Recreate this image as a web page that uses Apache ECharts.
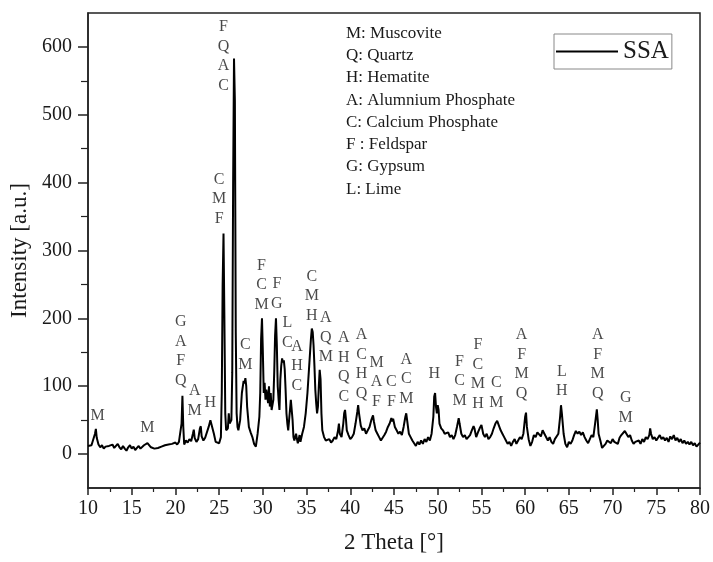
<!DOCTYPE html>
<html><head><meta charset="utf-8">
<script src="https://cdn.jsdelivr.net/npm/echarts@6/dist/echarts.min.js"></script>
<style>html,body{margin:0;padding:0;background:#fff}#c{width:713px;height:562px}</style>
</head><body><div id="c"></div>
<script>
// XRD pattern (2θ in degrees, intensity in a.u.)
const twoTheta = [
10.0,10.2,10.4,10.6,10.8,10.9,11.0,11.2,11.4,11.6,11.8,12.0,12.2,12.4,12.6,12.8,13.0,13.2,13.4,13.6,13.8,
14.0,14.2,14.4,14.6,14.8,15.0,15.2,15.4,15.6,15.8,16.0,16.2,16.4,16.6,16.8,17.0,17.2,17.4,17.6,17.8,
18.0,18.2,18.4,18.6,18.8,19.0,19.2,19.4,19.6,19.8,20.0,20.2,20.4,20.6,20.7,20.8,20.9,21.0,21.2,21.4,21.6,21.8,
22.0,22.1,22.2,22.4,22.6,22.8,22.9,23.0,23.2,23.4,23.6,23.8,24.0,24.2,24.4,24.6,24.8,25.0,25.2,25.3,25.4,25.5,25.6,25.7,25.8,
26.0,26.1,26.2,26.4,26.5,26.6,26.7,26.8,26.9,27.0,27.1,27.2,27.4,27.6,27.8,27.9,28.0,28.1,28.2,28.4,28.6,28.8,
29.0,29.2,29.4,29.6,29.7,29.8,29.9,30.0,30.1,30.2,30.3,30.4,30.6,30.7,30.8,30.9,31.0,31.2,31.3,31.4,31.5,31.6,31.7,31.8,31.9,
32.0,32.1,32.2,32.3,32.4,32.5,32.6,32.7,32.8,32.9,33.0,33.1,33.2,33.3,33.4,33.5,33.6,33.8,33.9,34.0,34.2,34.3,34.5,34.7,34.9,
35.1,35.3,35.5,35.6,35.7,35.8,35.9,36.0,36.1,36.2,36.3,36.4,36.5,36.6,36.7,36.8,37.0,37.2,37.4,37.6,37.8,
38.0,38.2,38.4,38.6,38.7,38.8,39.0,39.2,39.3,39.4,39.5,39.6,39.8,40.0,40.2,40.4,40.6,40.8,40.9,41.0,41.2,41.4,41.6,41.8,
42.0,42.2,42.4,42.6,42.7,42.9,43.1,43.3,43.5,43.7,43.9,44.1,44.3,44.5,44.7,44.8,44.9,45.1,45.3,45.5,45.7,45.9,
46.1,46.3,46.4,46.5,46.7,46.9,47.1,47.3,47.5,47.7,47.9,48.1,48.3,48.5,48.7,48.9,49.1,49.3,49.5,49.6,49.7,49.8,49.9,
50.0,50.1,50.2,50.4,50.6,50.8,51.0,51.2,51.4,51.6,51.8,52.0,52.2,52.4,52.5,52.7,52.9,53.1,53.3,53.5,53.7,53.9,
54.1,54.2,54.4,54.6,54.8,55.0,55.2,55.4,55.6,55.8,56.0,56.2,56.4,56.6,56.8,57.0,57.2,57.4,57.6,57.8,
58.0,58.2,58.4,58.6,58.8,59.0,59.2,59.4,59.6,59.8,60.0,60.1,60.2,60.4,60.6,60.8,61.0,61.2,61.4,61.6,61.8,
62.0,62.2,62.4,62.6,62.8,63.0,63.2,63.4,63.6,63.8,64.0,64.1,64.2,64.4,64.6,64.8,65.0,65.2,65.4,65.6,65.8,
66.0,66.2,66.4,66.6,66.8,67.0,67.2,67.4,67.6,67.8,68.0,68.2,68.3,68.4,68.6,68.8,69.0,69.2,69.4,69.6,69.8,
70.0,70.2,70.4,70.6,70.8,71.0,71.2,71.4,71.6,71.8,72.0,72.2,72.4,72.6,72.8,73.0,73.2,73.4,73.6,73.8,
74.0,74.2,74.3,74.4,74.6,74.8,75.0,75.2,75.4,75.6,75.8,76.0,76.2,76.4,76.6,76.8,77.0,77.2,77.4,77.6,77.8,
78.0,78.2,78.4,78.6,78.8,79.0,79.2,79.4,79.6,79.8,80.0
];
const intensity = [
12,10,13,15,30,37,24,14,10,13,8,11,9,12,10,14,9,12,15,10,7,
12,8,5,10,13,8,11,6,9,12,8,10,13,11,16,14,10,12,8,6,
9,8,11,10,13,11,14,12,15,13,17,14,18,20,45,86,40,14,20,17,22,19,
30,36,24,18,22,38,41,26,20,24,22,40,50,48,30,18,20,16,25,90,250,325,200,60,35,
38,60,45,50,120,400,583,520,180,60,40,35,50,90,108,104,112,100,70,40,32,25,
15,11,30,55,90,170,200,150,90,105,80,95,75,100,70,90,65,80,120,175,200,160,100,80,65,
110,130,141,135,138,125,95,60,45,35,50,65,80,82,50,25,20,30,22,16,28,18,30,40,60,
90,130,170,185,180,160,130,95,75,60,70,100,124,110,60,35,25,20,18,22,17,
20,25,22,35,45,30,25,45,60,65,52,35,28,22,25,30,45,62,72,60,42,35,38,30,
35,40,50,57,48,35,30,25,20,22,28,33,40,45,53,48,52,40,35,30,33,28,
40,55,60,50,30,25,20,16,12,18,14,20,15,22,18,25,20,30,55,85,90,70,60,
72,65,45,38,35,30,28,32,25,28,22,28,40,53,45,30,25,28,22,20,28,35,
41,38,25,32,38,43,30,25,30,22,25,30,38,45,49,42,35,30,25,20,
15,18,12,18,22,15,20,25,22,30,55,61,40,22,12,18,28,25,32,30,26,
35,30,28,20,25,18,15,22,20,30,55,72,60,30,15,10,18,15,20,28,34,
30,33,28,32,25,20,16,22,28,25,45,66,50,30,20,9,12,15,20,18,16,
22,18,20,15,24,28,30,34,32,25,28,20,15,18,16,20,15,22,18,25,
22,28,38,30,22,25,20,24,28,22,25,20,24,18,26,22,28,20,24,18,22,
16,20,15,18,14,18,13,16,11,9,17
];

// Phase labels above peaks
const peakLabelX = [11.1, 16.8, 20.6, 22.2, 24.0, 25.0, 25.5, 28.0, 29.85, 31.6, 32.8, 33.9, 35.6, 37.2, 39.25, 41.3, 43.0, 44.7, 46.4, 49.6, 52.5, 54.6, 56.7, 59.6, 64.2, 68.3, 71.5];
const peakLabelY = [42, 24, 93, 49, 61, 332, 528, 117, 205, 207, 149, 86, 189, 128, 70, 74, 62, 62, 67, 103, 64, 59, 61, 74, 78, 74, 39];
const peakLabelText = ['M','M','G\nA\nF\nQ','A\nM','H','C\nM\nF','F\nQ\nA\nC','C\nM','F\nC\nM','F\nG','L\nC','A\nH\nC','C\nM\nH','A\nQ\nM','A\nH\nQ\nC','A\nC\nH\nQ','M\nA\nF','C\nF','A\nC\nM','H','F\nC\nM','F\nC\nM\nH','C\nM','A\nF\nM\nQ','L\nH','A\nF\nM\nQ','G\nM'];

const phaseKey = ['M: Muscovite','Q: Quartz','H: Hematite','A: Alumnium Phosphate','C: Calcium Phosphate','F : Feldspar','G: Gypsum','L: Lime'];

const xTicks = {min: 10, max: 80, step: 5};
const yLabels = [0, 100, 200, 300, 400, 500, 600];
const yMinorTicks = [50, 150, 250, 350, 450, 550];
const seriesName = 'SSA';

const FONT = '"Liberation Serif", "Times New Roman", serif';
const lineData = twoTheta.map((x, i) => [x, intensity[i]]);
const labelData = peakLabelX.map((x, i) => [x, peakLabelY[i], peakLabelText[i]]);

const chart = echarts.init(document.getElementById('c'), null, {renderer: 'canvas'});
chart.setOption({
  animation: false,
  backgroundColor: '#fff',
  grid: {left: 88, top: 13, right: 10, bottom: 74, show: true, borderColor: '#222', borderWidth: 1.5, backgroundColor: 'transparent'},
  legend: {
    data: [seriesName], left: 554, top: 34, orient: 'horizontal',
    icon: 'rect', itemWidth: 62, itemHeight: 2,
    padding: [3, 3, 3, 2],
    borderColor: '#888', borderWidth: 1,
    textStyle: {fontFamily: FONT, fontSize: 25, color: '#1a1a1a', lineHeight: 29},
    selectedMode: false
  },
  xAxis: {
    type: 'value', min: xTicks.min, max: xTicks.max, interval: xTicks.step,
    name: '2 Theta [°]', nameLocation: 'middle', nameGap: 43,
    nameTextStyle: {fontFamily: FONT, fontSize: 23, color: '#1a1a1a'},
    axisLine: {show: true, onZero: false, lineStyle: {color: '#222', width: 1.5}},
    axisTick: {show: true, inside: false, length: 7, lineStyle: {color: '#222', width: 1.5}},
    minorTick: {show: true, splitNumber: 2, length: 4, lineStyle: {color: '#222', width: 1.2}},
    axisLabel: {fontFamily: FONT, fontSize: 20, color: '#1a1a1a', margin: 11},
    splitLine: {show: false}
  },
  yAxis: [{
    type: 'value', min: -50, max: 650,
    name: 'Intensity [a.u.]', nameLocation: 'middle', nameGap: 54,
    nameTextStyle: {fontFamily: FONT, fontSize: 23, color: '#1a1a1a'},
    axisLine: {show: true, onZero: false, lineStyle: {color: '#222', width: 1.5}},
    axisTick: {show: true, inside: false, length: 10, customValues: yLabels, lineStyle: {color: '#222', width: 1.5}},
    axisLabel: {fontFamily: FONT, fontSize: 20, color: '#1a1a1a', margin: 16, customValues: yLabels},
    splitLine: {show: false}
  }, {
    type: 'value', min: -50, max: 650, position: 'left',
    axisLine: {show: false},
    axisTick: {show: true, inside: false, length: 7, customValues: yMinorTicks, lineStyle: {color: '#222', width: 1.2}},
    axisLabel: {show: false},
    splitLine: {show: false}
  }],
  graphic: [{
    type: 'text', left: 346, top: 22, silent: true,
    style: {text: phaseKey.join('\n'), font: '17px ' + FONT, lineHeight: 22.3, fill: '#1a1a1a'}
  }],
  series: [{
    name: seriesName, type: 'line', data: lineData, yAxisIndex: 0,
    symbol: 'none', showSymbol: false,
    lineStyle: {color: '#000', width: 2}, itemStyle: {color: '#000'},
    z: 3
  }, {
    name: 'labels', type: 'scatter', data: labelData, yAxisIndex: 0,
    symbolSize: 1, itemStyle: {color: 'transparent'}, silent: true,
    label: {
      show: true, position: 'top', distance: 0,
      formatter: p => p.data[2],
      fontFamily: FONT, fontSize: 16, lineHeight: 19.5, color: '#1a1a1a', align: 'center'
    },
    z: 4
  }]
});
</script>
</body></html>
